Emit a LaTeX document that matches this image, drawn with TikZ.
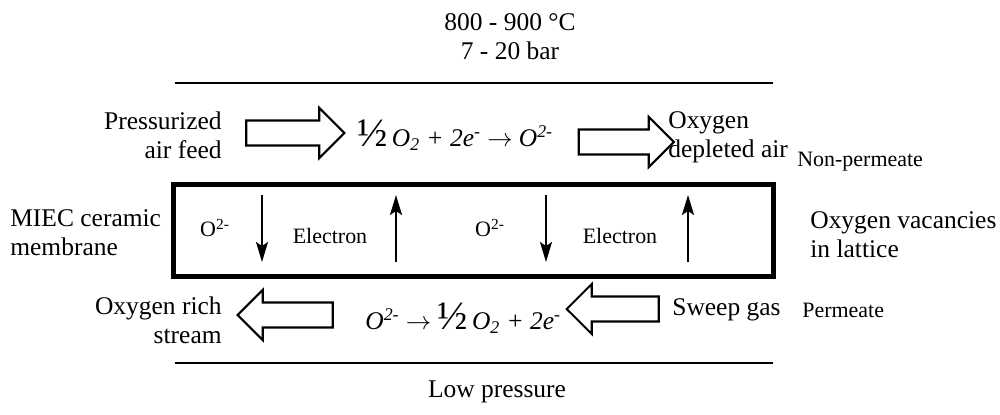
\documentclass[tikz,border=0pt]{standalone}
\usepackage{fontspec}
\setmainfont{Liberation Serif}
\usetikzlibrary{arrows.meta,shapes.arrows}

\tikzset{
  big/.style={font=\fontsize{14.5}{16.5}\selectfont, inner sep=0pt},
  small/.style={font=\fontsize{12.5}{14}\selectfont, inner sep=0pt},
  blockarrow/.style={single arrow, draw, line width=1.2pt, inner sep=0.23cm,
    single arrow head extend=0.25cm, minimum height=1.9cm},
  flow/.style={line width=1.1pt, -{Stealth[length=0.4cm,width=0.24cm,inset=0.08cm]}},
  wall/.style={line width=1.7pt},
}
\newcommand{\halfsym}{{\fontsize{23}{23}\selectfont ½}}

\begin{document}
\begin{tikzpicture}[x=0.02cm,y=-0.02cm]
  \useasboundingbox (0,0) rectangle (1000,415);
  % Conditions
  \node[big, align=center] (cond) at (510,37) {800 - 900 °C\\7 - 20 bar};
  \draw[wall] (175,83) -- (773,83);
  % Feed side
  \node[big, align=right, anchor=east] (feed) at (222,135) {Pressurized\\air feed};
  \node[blockarrow, minimum height=1.96cm] (feedarrow) at (289,133) {};
  \node[big, anchor=west] (reduce) at (357,135)
    {\halfsym\,\textit{O\textsubscript{2} + 2e\textsuperscript{-} $\rightarrow$ O\textsuperscript{2-}}};
  \node[blockarrow] (outarrow) at (620,142) {};
  \node[big, align=left, anchor=west] (depleted) at (668,137) {Oxygen\\depleted air};
  \node[small, anchor=west] (nonperm) at (797,162) {Non-permeate};
  % Membrane
  \node[draw, line width=2.8pt, minimum width=12.01cm, minimum height=1.85cm] (membrane) at (473.5,230.5) {};
  \node[big, align=left, anchor=west] (miec) at (10,233) {MIEC ceramic\\membrane};
  \node[big, align=left, anchor=west] (vacancy) at (810,235) {Oxygen vacancies\\in lattice};
  \node[small] (ionA) at (215,228) {O\textsuperscript{2-}};
  \node[small] (elecA) at (330,236) {Electron};
  \node[small] (ionB) at (490,228) {O\textsuperscript{2-}};
  \node[small] (elecB) at (620,236) {Electron};
  \draw[flow] (262,195) -- (262,262);
  \draw[flow] (396,262) -- (396,195);
  \draw[flow] (546,195) -- (546,262);
  \draw[flow] (688,262) -- (688,195);
  % Permeate side
  \node[big, align=right, anchor=east] (rich) at (222,320) {Oxygen rich\\stream};
  \node[blockarrow, shape border rotate=180] (richarrow) at (291.5,315) {};
  \node[big, anchor=west] (oxidise) at (365,318)
    {\textit{O\textsuperscript{2-} $\rightarrow$} \halfsym\,\textit{O\textsubscript{2} + 2e\textsuperscript{-}}};
  \node[blockarrow, shape border rotate=180, minimum height=1.84cm] (sweeparrow) at (619,309) {};
  \node[big, anchor=west] (sweep) at (672,310) {Sweep gas};
  \node[small, anchor=west] (perm) at (802,310) {Permeate};
  \draw[wall] (175,363) -- (773,363);
  \node[big] (low) at (497,392) {Low pressure};
\end{tikzpicture}
\end{document}
